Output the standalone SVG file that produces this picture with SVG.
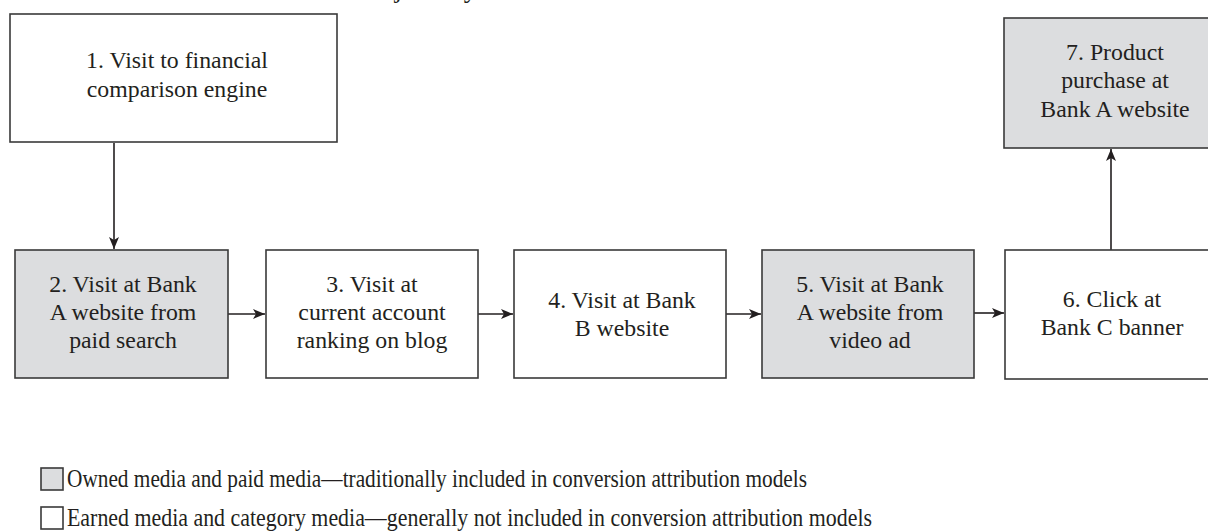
<svg xmlns="http://www.w3.org/2000/svg" width="1208" height="531" viewBox="0 0 1208 531">
<style>
.box{fill:#ffffff;stroke:#3a3a3a;stroke-width:1.6}
.gray{fill:#dcdddf}
.t{font-family:'Liberation Serif','Times New Roman',serif;font-size:23.8px;fill:#231f20;text-anchor:middle}
.lg{font-family:'Liberation Serif','Times New Roman',serif;font-size:26px;fill:#231f20}
.c{stroke:#231f20;stroke-width:1.6;fill:none;marker-end:url(#ah)}
</style>
<defs>
<marker id="ah" viewBox="0 0 12 10" refX="12" refY="5" markerWidth="12" markerHeight="10" markerUnits="userSpaceOnUse" orient="auto">
<path d="M0,0 L12,5 L0,10 L3,5 Z" fill="#231f20"/>
</marker>
</defs>
<text x="436" y="-3" font-family="'Liberation Serif', serif" font-size="27" fill="#231f20" text-anchor="middle">journey</text>
<g id="connectors">
<line class="c" x1="114" y1="143" x2="114" y2="249"/>
<line class="c" x1="228" y1="314" x2="265" y2="314"/>
<line class="c" x1="478" y1="314" x2="513" y2="314"/>
<line class="c" x1="726" y1="314" x2="761" y2="314"/>
<line class="c" x1="974" y1="313" x2="1004" y2="313"/>
<line class="c" x1="1111" y1="250" x2="1111" y2="149"/>
</g>
<g id="n1">
<rect class="box" x="10" y="14" width="327" height="128"/>
<text class="t" x="177" y="68">1. Visit to financial</text>
<text class="t" x="177" y="97">comparison engine</text>
</g>
<g id="n2">
<rect class="box gray" x="15" y="250" width="213" height="128"/>
<text class="t" x="123" y="292">2. Visit at Bank</text>
<text class="t" x="123" y="320">A website from</text>
<text class="t" x="123" y="348">paid search</text>
</g>
<g id="n3">
<rect class="box" x="266" y="250" width="212" height="128"/>
<text class="t" x="372" y="292">3. Visit at</text>
<text class="t" x="372" y="320">current account</text>
<text class="t" x="372" y="348">ranking on blog</text>
</g>
<g id="n4">
<rect class="box" x="514" y="250" width="212" height="128"/>
<text class="t" x="622" y="308">4. Visit at Bank</text>
<text class="t" x="622" y="336">B website</text>
</g>
<g id="n5">
<rect class="box gray" x="762" y="250" width="212" height="128"/>
<text class="t" x="870" y="292">5. Visit at Bank</text>
<text class="t" x="870" y="320">A website from</text>
<text class="t" x="870" y="348">video ad</text>
</g>
<g id="n6">
<rect class="box" x="1005" y="250" width="213" height="129"/>
<text class="t" x="1112" y="307">6. Click at</text>
<text class="t" x="1112" y="335">Bank C banner</text>
</g>
<g id="n7">
<rect class="box gray" x="1004" y="18" width="214" height="130"/>
<text class="t" x="1115" y="60">7. Product</text>
<text class="t" x="1115" y="88">purchase at</text>
<text class="t" x="1115" y="117">Bank A website</text>
</g>
<g id="legend">
<rect class="box gray" x="41" y="468" width="22" height="22"/>
<text class="lg" x="67" y="487" textLength="740" lengthAdjust="spacingAndGlyphs">Owned media and paid media—traditionally included in conversion attribution models</text>
<rect class="box" x="41" y="507" width="22" height="22"/>
<text class="lg" x="67" y="526" textLength="805" lengthAdjust="spacingAndGlyphs">Earned media and category media—generally not included in conversion attribution models</text>
</g>
</svg>
